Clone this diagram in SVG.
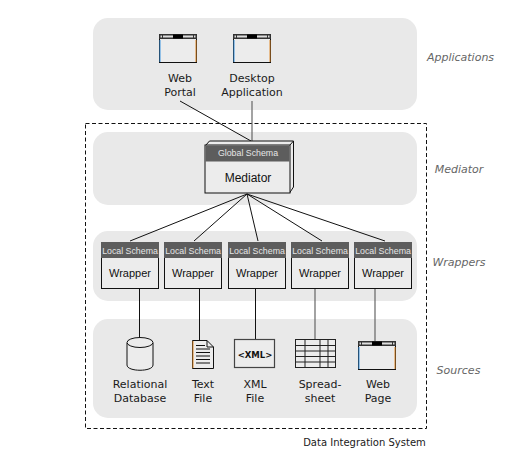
<svg xmlns="http://www.w3.org/2000/svg" width="531" height="463" viewBox="0 0 531 463">
<style>
.panel{fill:#e9e9e9}
.t{font-family:"DejaVu Sans",Verdana,sans-serif;font-size:11px;fill:#1a1a1a;text-anchor:middle}
.side{font-family:"DejaVu Sans",Verdana,sans-serif;font-size:11px;font-style:italic;fill:#666;text-anchor:middle}
.h{font-family:"Liberation Sans",Arial,sans-serif;font-size:8.8px;fill:#e6e6e6;text-anchor:middle}
.m{font-family:"Liberation Sans",Arial,sans-serif;font-size:12px;fill:#111;text-anchor:middle}
.w{font-family:"Liberation Sans",Arial,sans-serif;font-size:11px;fill:#111;text-anchor:middle}
.box{fill:#ececec;stroke:#111;stroke-width:1}
.head{fill:#5d5d5d}
.c{stroke:#111;stroke-width:1;fill:none}
.c2{stroke:#666;stroke-width:1.2;fill:none}
</style>
<defs>
<g id="win">
<rect x="0.5" y="0.5" width="37" height="28" fill="#ececec" stroke="#111"/>
<path d="M1 6V28" stroke="#3a94e0" fill="none"/>
<path d="M37 6V28" stroke="#e08a2a" fill="none"/>
<rect x="0" y="0" width="38" height="5" fill="#333"/>
<rect x="4" y="1.500" width="10" height="2" fill="#ddd"/>
<rect x="24" y="1.500" width="10" height="2" fill="#ddd"/>
<rect x="14" y="0.500" width="10" height="4" fill="#000"/>
<rect x="1.500" y="1.500" width="1.500" height="2" fill="#ddd"/>
<rect x="35" y="1.500" width="1.500" height="2" fill="#ddd"/>
</g>
<g id="wrap">
<rect class="box" x="0.500" y="0.500" width="57" height="46"/>
<rect class="head" x="0" y="0" width="58" height="16"/>
<text class="h" x="29" y="11.500">Local Schema</text>
<text class="w" x="29" y="34.500">Wrapper</text>
</g>
</defs>
<g id="panels">
<rect class="panel" x="93" y="18" width="324" height="92" rx="15"/>
<rect class="panel" x="93" y="132" width="324" height="73" rx="15"/>
<rect class="panel" x="93" y="231" width="324" height="70" rx="15"/>
<rect class="panel" x="93" y="319" width="324" height="99" rx="15"/>
</g>
<g id="boundary"><rect x="85.500" y="123.500" width="341" height="305" fill="none" stroke="#111" stroke-dasharray="4 2.500"/></g>
<g id="connectors">
<path class="c" d="M180 101L251 141"/>
<path class="c2" d="M252 101V141"/>
<path class="c" d="M247 194L130 241M247 194L194 241M247 194L258 241M247 194L322 241M247 194L385 241"/>
<path class="c" d="M139.500 288V338M199.500 288V340M255.500 288V339"/>
<path class="c2" d="M315 288V339M375 288V341"/>
</g>
<g id="web-portal"><use href="#win" x="159" y="34"/><text class="t" x="180" y="82">Web</text><text class="t" x="180" y="96">Portal</text></g>
<g id="desktop-application"><use href="#win" x="233" y="34"/><text class="t" x="252" y="82">Desktop</text><text class="t" x="252" y="96">Application</text></g>
<g id="mediator">
<path d="M205.500 145.500L209.500 141H293.500V187L289.500 193V145.500H205.500Z" fill="#ececec" stroke="#111"/>
<path d="M289.500 145.500L293.500 141" stroke="#111"/>
<rect class="box" x="205" y="145" width="85" height="48"/>
<rect class="head" x="205.500" y="145.500" width="84" height="16"/>
<text class="h" x="248" y="156">Global Schema</text>
<text class="m" x="248" y="182">Mediator</text>
</g>
<g id="wrapper-1"><use href="#wrap" x="101" y="242"/></g>
<g id="wrapper-2"><use href="#wrap" x="164" y="242"/></g>
<g id="wrapper-3"><use href="#wrap" x="228" y="242"/></g>
<g id="wrapper-4"><use href="#wrap" x="291" y="242"/></g>
<g id="wrapper-5"><use href="#wrap" x="354" y="242"/></g>
<g id="relational-database">
<path d="M127 343V365C127 372 153 372 153 365V343" fill="#ececec" stroke="#111"/>
<ellipse cx="140" cy="342.500" rx="13" ry="5" fill="#ececec" stroke="#111"/>
<text class="t" x="140" y="388">Relational</text><text class="t" x="140" y="402">Database</text>
</g>
<g id="text-file">
<path d="M192.500 340.500H207L213.500 347V368.500H192.500Z" fill="#ececec" stroke="#111"/>
<path d="M193 341V368" stroke="#e08a2a"/>
<path d="M207 340.500V347H213.500" fill="none" stroke="#111"/>
<path d="M196 345.500H205M196 349H210M196 352.500H210M196 356H210M196 359.500H210M196 363H210" stroke="#111" stroke-width="1.100"/>
<text class="t" x="203" y="388">Text</text><text class="t" x="203" y="402">File</text>
</g>
<g id="xml-file">
<rect x="234.500" y="339.500" width="40" height="28" fill="#ececec" stroke="#444" stroke-width="1.200"/>
<text x="255" y="358" font-family="'DejaVu Sans','Liberation Sans',sans-serif" font-size="8.500" font-weight="bold" fill="#111" text-anchor="middle">&lt;XML&gt;</text>
<text class="t" x="255" y="388">XML</text><text class="t" x="255" y="402">File</text>
</g>
<g id="spreadsheet">
<rect x="295.500" y="339.500" width="40" height="28" fill="#ececec" stroke="#222"/>
<path d="M295 345.500H336M295 351H336M295 356.500H336M295 362H336M305 339V368M320 339V368M328 339V368" stroke="#222" fill="none"/>
<text class="t" x="320" y="388">Spread-</text><text class="t" x="320" y="402">sheet</text>
</g>
<g id="web-page"><use href="#win" x="358" y="341"/><text class="t" x="378" y="388">Web</text><text class="t" x="378" y="402">Page</text></g>
<g id="labels">
<text class="side" x="460.500" y="61">Applications</text>
<text class="side" x="459" y="173">Mediator</text>
<text class="side" x="459" y="266">Wrappers</text>
<text class="side" x="458.500" y="374">Sources</text>
<text x="364.500" y="446" font-family="'DejaVu Sans',Verdana,sans-serif" font-size="10px" fill="#1a1a1a" text-anchor="middle">Data Integration System</text>
</g>
</svg>
